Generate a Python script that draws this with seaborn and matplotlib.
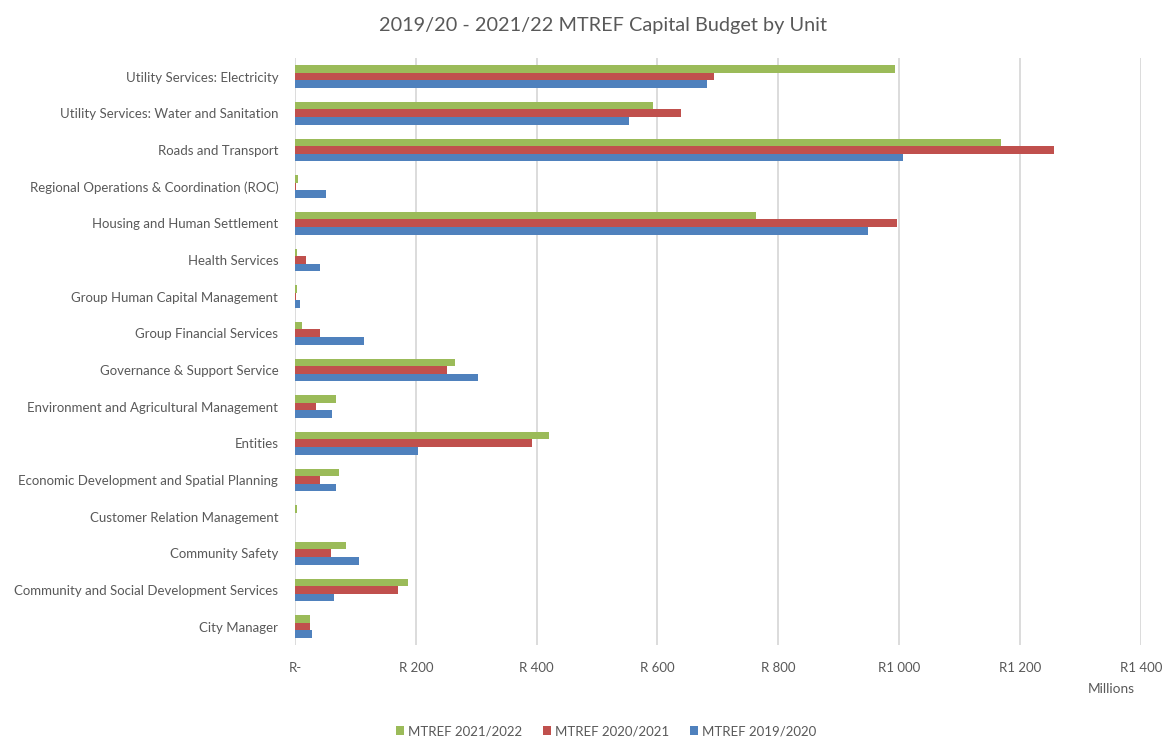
import matplotlib
matplotlib.use("Agg")
import matplotlib.pyplot as plt
import seaborn as sns
import pandas as pd
from matplotlib.patches import Patch

# Units, listed top to bottom
units = [
    "Utility Services: Electricity",
    "Utility Services: Water and Sanitation",
    "Roads and Transport",
    "Regional Operations & Coordination (ROC)",
    "Housing and Human Settlement",
    "Health Services",
    "Group Human Capital Management",
    "Group Financial Services",
    "Governance & Support Service",
    "Environment and Agricultural Management",
    "Entities",
    "Economic Development and Spatial Planning",
    "Customer Relation Management",
    "Community Safety",
    "Community and Social Development Services",
    "City Manager",
]

# Capital budget, R millions
mtref_2021_22 = [993, 593, 1169, 5, 763, 3, 3, 11, 265, 68, 421, 73, 3, 84, 187, 25]
mtref_2020_21 = [693, 639, 1256, 2, 996, 19, 2, 41, 251, 35, 392, 41, 0, 60, 171, 25]
mtref_2019_20 = [682, 553, 1007, 51, 949, 41, 8, 114, 303, 62, 203, 68, 0, 106, 65, 28]

series_names = ["MTREF 2021/2022", "MTREF 2020/2021", "MTREF 2019/2020"]
series_colors = ["#9BBB59", "#C0504D", "#4F81BD"]

x_ticks = [0, 200, 400, 600, 800, 1000, 1200, 1400]
x_tick_labels = ["R-", "R 200", "R 400", "R 600", "R 800", "R1 000", "R1 200", "R1 400"]

df = pd.DataFrame({
    "unit": units * 3,
    "series": sum([[s] * len(units) for s in series_names], []),
    "value": mtref_2021_22 + mtref_2020_21 + mtref_2019_20,
})

sns.set_theme(style="white")
plt.rcParams["font.family"] = ["Lato", "DejaVu Sans"]
text_color = "#595959"

fig = plt.figure(figsize=(11.64, 7.37), dpi=100)
ax = fig.add_axes([0.2534, 0.125, 0.7266, 0.796])

sns.barplot(
    data=df, y="unit", x="value", hue="series",
    order=units, hue_order=series_names, palette=series_colors,
    orient="h", width=0.62, errorbar=None, saturation=1,
    linewidth=0, ax=ax, legend=False,
)

ax.set_xlim(0, 1400)
ax.set_ylim(len(units) - 0.5, -0.5)
ax.set_xticks(x_ticks)
ax.set_xticklabels(x_tick_labels)
ax.xaxis.grid(True, color="#D9D9D9", linewidth=1.3)
ax.set_axisbelow(True)
for sp in ax.spines.values():
    sp.set_visible(False)
ax.tick_params(axis="x", length=0, pad=12, labelsize=9.5, labelcolor=text_color)
ax.tick_params(axis="y", length=0, pad=12, labelsize=9.5, labelcolor=text_color)
ax.set_xlabel("")
ax.set_ylabel("")

fig.text(0.518, 0.966, "2019/20 - 2021/22 MTREF Capital Budget by Unit",
         ha="center", va="center", fontsize=14.3, color=text_color)
fig.text(0.955, 0.065, "Millions", ha="center", va="center",
         fontsize=9.8, color=text_color)

handles = [Patch(facecolor=c, edgecolor="none") for c in series_colors]
fig.legend(handles, series_names, loc="center", bbox_to_anchor=(0.521, 0.008),
           ncol=3, frameon=False, fontsize=9.5, labelcolor=text_color,
           handlelength=0.6, handleheight=0.6, handletextpad=0.3,
           columnspacing=1.6)

fig.savefig("out.png", dpi=100)
